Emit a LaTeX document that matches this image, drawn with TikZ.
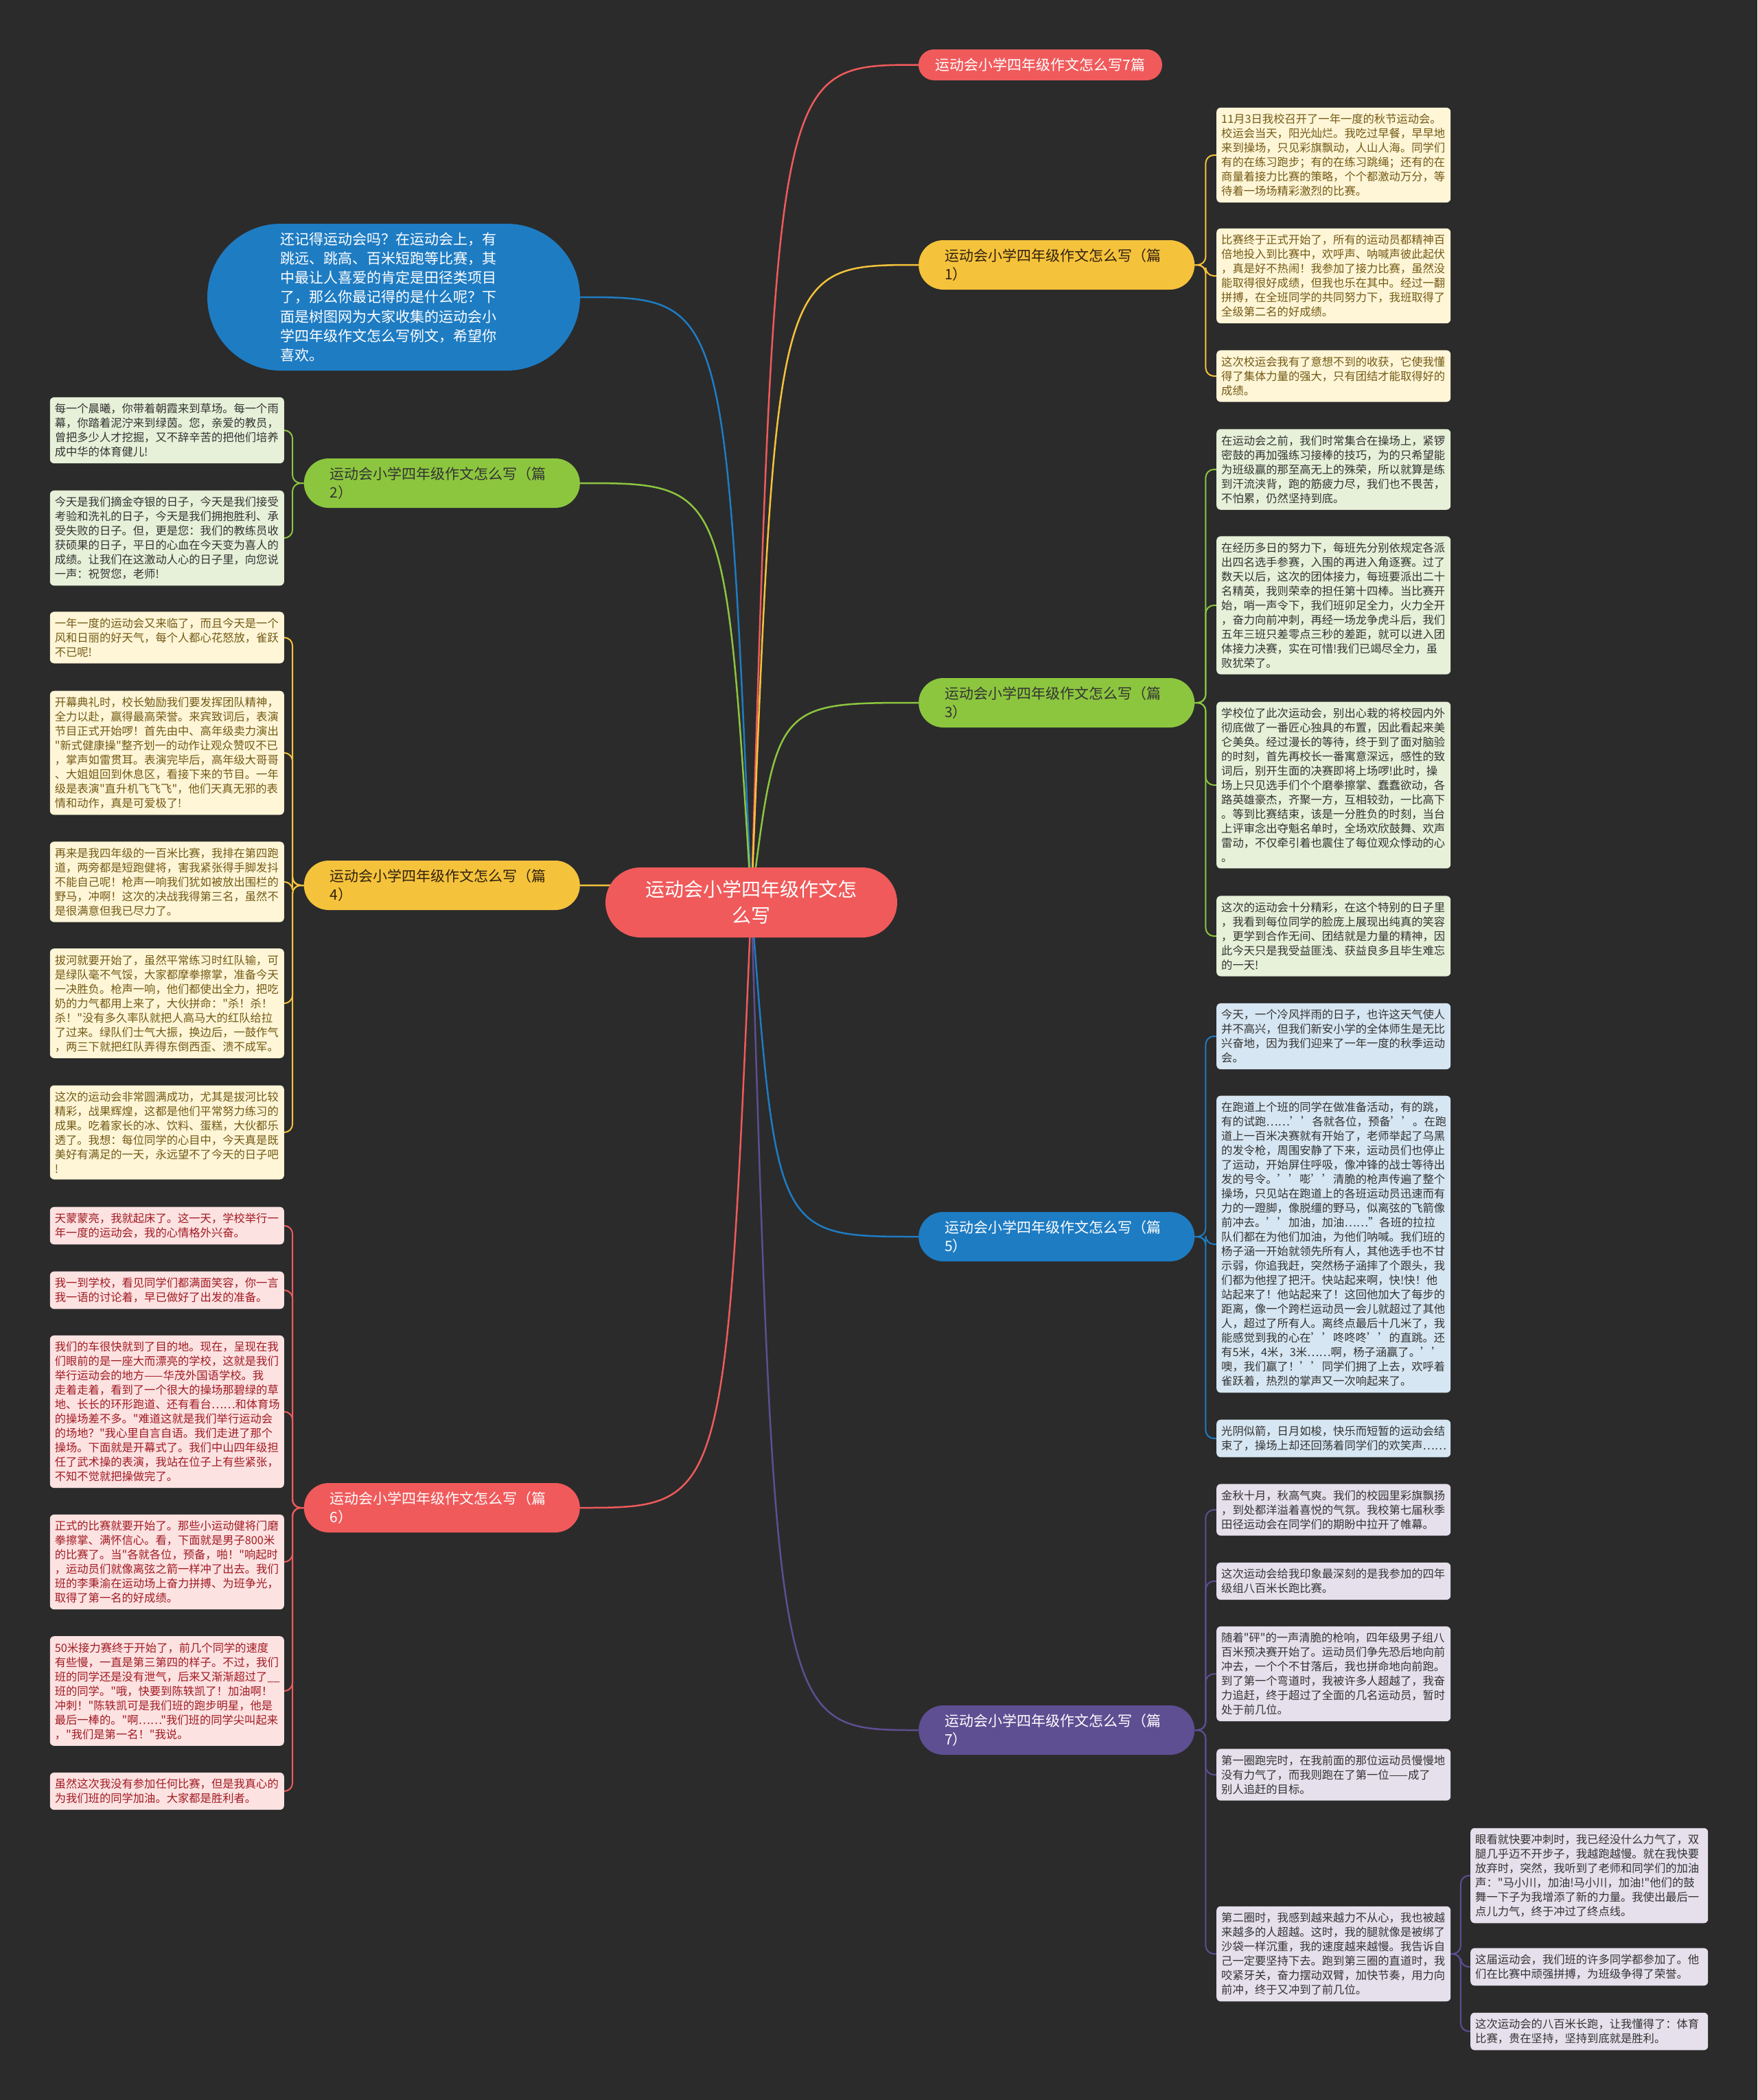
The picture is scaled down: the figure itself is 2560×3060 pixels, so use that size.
\documentclass[tikz,border=0pt]{standalone}
\usepackage{fontspec}
\newfontfamily\cjkf{Noto Sans CJK SC}
\usetikzlibrary{calc}
\pgfdeclarelayer{bg}
\pgfsetlayers{bg,main}
\definecolor{bgc}{HTML}{2B2B2B}
\definecolor{cred}{HTML}{F05A5B}
\definecolor{cyel}{HTML}{F5C33B}
\definecolor{cgrn}{HTML}{8CC63F}
\definecolor{cblu}{HTML}{1E7CC3}
\definecolor{cpur}{HTML}{5E4E92}
\definecolor{fyel}{HTML}{FFF6D8}
\definecolor{tyel}{HTML}{735A14}
\definecolor{fgrn}{HTML}{E7F0D8}
\definecolor{fblu}{HTML}{D6E6F2}
\definecolor{fpur}{HTML}{E5E0EC}
\definecolor{fred}{HTML}{FDE2E2}
\definecolor{tred}{HTML}{A01B22}
\definecolor{tdark}{HTML}{333333}
\newcommand\leaffont{\cjkf\fontsize{16.3}{21}\selectfont}
\newcommand\brfont{\cjkf\fontsize{21}{27}\selectfont}
\newcommand\rootfont{\cjkf\fontsize{28}{38}\selectfont}
\newcommand\bubfont{\cjkf\fontsize{21}{28.3}\selectfont}
\begin{document}
\begin{tikzpicture}[x=1pt,y=-1pt,
  leafbase/.style={rectangle, rounded corners=6pt, text width=327pt, inner xsep=7pt, inner ysep=9pt, align=left, font=\leaffont},
  leafY/.style={leafbase, fill=fyel, text=tyel},
  leafG/.style={leafbase, fill=fgrn, text=tdark},
  leafB/.style={leafbase, fill=fblu, text=tdark},
  leafP/.style={leafbase, fill=fpur, text=tdark},
  leafR/.style={leafbase, fill=fred, text=tred},
  subleaf/.style={leafP, text width=332pt},
  brbase/.style={rectangle, rounded corners=36pt, minimum height=72pt, text width=326pt, inner xsep=38pt, align=left, font=\brfont},
  conn/.style={line width=2.5pt},
  lconn/.style={line width=2pt, rounded corners=12pt}
]
\useasboundingbox (0,0) rectangle (2560,3060);

% root and branches
\node[rectangle, rounded corners=51pt, minimum width=425pt, minimum height=102pt, fill=cred, text=white, align=center, font=\rootfont] (root) at (1094.5,1315) {运动会小学四年级作文怎\\么写};

\node[rectangle, rounded corners=22.5pt, minimum width=355pt, minimum height=45pt, fill=cred, text=white, font=\brfont] (top7) at (1515.5,94.5) {运动会小学四年级作文怎么写7篇};

\node[rectangle, rounded corners=107pt, minimum width=543pt, minimum height=214pt, text width=330pt, fill=cblu, text=white, align=left, font=\bubfont] (bub) at (573.5,433) {还记得运动会吗？在运动会上，有\\跳远、跳高、百米短跑等比赛，其\\中最让人喜爱的肯定是田径类项目\\了，那么你最记得的是什么呢？下\\面是树图网为大家收集的运动会小\\学四年级作文怎么写例文，希望你\\喜欢。};

\node[brbase, fill=cyel, text=black!75!brown, anchor=west] (b1) at (1338,386) {运动会小学四年级作文怎么写（篇\\1）};
\node[brbase, fill=cgrn, text=black!80, anchor=west] (b3) at (1338,1024) {运动会小学四年级作文怎么写（篇\\3）};
\node[brbase, fill=cblu, text=white, anchor=west] (b5) at (1338,1802) {运动会小学四年级作文怎么写（篇\\5）};
\node[brbase, fill=cpur, text=white, anchor=west] (b7) at (1338,2521) {运动会小学四年级作文怎么写（篇\\7）};
\node[brbase, fill=cgrn, text=black!80, anchor=east] (b2) at (845,704) {运动会小学四年级作文怎么写（篇\\2）};
\node[brbase, fill=cyel, text=black!75!brown, anchor=east] (b4) at (845,1290) {运动会小学四年级作文怎么写（篇\\4）};
\node[brbase, fill=cred, text=white, anchor=east] (b6) at (845,2197) {运动会小学四年级作文怎么写（篇\\6）};

% section 1
\node[leafY, anchor=west] (y1) at (1772,226) {11月3日我校召开了一年一度的秋节运动会。\\校运会当天，阳光灿烂。我吃过早餐，早早地\\来到操场，只见彩旗飘动，人山人海。同学们\\有的在练习跑步；有的在练习跳绳；还有的在\\商量着接力比赛的策略，个个都激动万分，等\\待着一场场精彩激烈的比赛。};
\node[leafY, anchor=west] (y2) at (1772,402) {比赛终于正式开始了，所有的运动员都精神百\\倍地投入到比赛中，欢呼声、呐喊声彼此起伏\\，真是好不热闹！我参加了接力比赛，虽然没\\能取得很好成绩，但我也乐在其中。经过一翻\\拼搏，在全班同学的共同努力下，我班取得了\\全级第二名的好成绩。};
\node[leafY, anchor=west] (y3) at (1772,548) {这次校运会我有了意想不到的收获，它使我懂\\得了集体力量的强大，只有团结才能取得好的\\成绩。};

% section 3
\node[leafG, anchor=west] (g1) at (1772,684) {在运动会之前，我们时常集合在操场上，紧锣\\密鼓的再加强练习接棒的技巧，为的只希望能\\为班级赢的那至高无上的殊荣，所以就算是练\\到汗流浃背，跑的筋疲力尽，我们也不畏苦，\\不怕累，仍然坚持到底。};
\node[leafG, anchor=west] (g2) at (1772,882) {在经历多日的努力下，每班先分别依规定各派\\出四名选手参赛，入围的再进入角逐赛。过了\\数天以后，这次的团体接力，每班要派出二十\\名精英，我则荣幸的担任第十四棒。当比赛开\\始，哨一声令下，我们班卯足全力，火力全开\\，奋力向前冲刺，再经一场龙争虎斗后，我们\\五年三班只差零点三秒的差距，就可以进入团\\体接力决赛，实在可惜!我们已竭尽全力，虽\\败犹荣了。};
\node[leafG, anchor=west] (g3) at (1772,1144) {学校位了此次运动会，别出心栽的将校园内外\\彻底做了一番匠心独具的布置，因此看起来美\\仑美奂。经过漫长的等待，终于到了面对脑验\\的时刻，首先再校长一番寓意深远，感性的致\\词后，别开生面的决赛即将上场啰!此时，操\\场上只见选手们个个磨拳擦掌、蠢蠢欲动，各\\路英雄豪杰，齐聚一方，互相较劲，一比高下\\。等到比赛结束，该是一分胜负的时刻，当台\\上评审念出夺魁名单时，全场欢欣鼓舞、欢声\\雷动，不仅牵引着也震住了每位观众悸动的心\\。};
\node[leafG, anchor=west] (g4) at (1772,1364) {这次的运动会十分精彩，在这个特别的日子里\\，我看到每位同学的脸庞上展现出纯真的笑容\\，更学到合作无间、团结就是力量的精神，因\\此今天只是我受益匪浅、获益良多且毕生难忘\\的一天!};

% section 5
\node[leafB, anchor=west] (u1) at (1772,1510) {今天，一个冷风拌雨的日子，也许这天气使人\\并不高兴，但我们新安小学的全体师生是无比\\兴奋地，因为我们迎来了一年一度的秋季运动\\会。};
\node[leafB, anchor=west] (u2) at (1772,1813) {在跑道上个班的同学在做准备活动，有的跳，\\有的试跑……’’各就各位，预备’’。在跑\\道上一百米决赛就有开始了，老师举起了乌黑\\的发令枪，周围安静了下来，运动员们也停止\\了运动，开始屏住呼吸，像冲锋的战士等待出\\发的号令。’’嘭’’清脆的枪声传遍了整个\\操场，只见站在跑道上的各班运动员迅速而有\\力的一蹬脚，像脱缰的野马，似离弦的飞箭像\\前冲去。’’加油，加油……”各班的拉拉\\队们都在为他们加油，为他们呐喊。我们班的\\杨子涵一开始就领先所有人，其他选手也不甘\\示弱，你追我赶，突然杨子涵摔了个跟头，我\\们都为他捏了把汗。快站起来啊，快!快！他\\站起来了！他站起来了！这回他加大了每步的\\距离，像一个跨栏运动员一会儿就超过了其他\\人，超过了所有人。离终点最后十几米了，我\\能感觉到我的心在’’咚咚咚’’的直跳。还\\有5米，4米，3米……啊，杨子涵赢了。’’\\噢，我们赢了！’’同学们拥了上去，欢呼着\\雀跃着，热烈的掌声又一次响起来了。};
\node[leafB, anchor=west] (u3) at (1772,2096) {光阴似箭，日月如梭，快乐而短暂的运动会结\\束了，操场上却还回荡着同学们的欢笑声……};

% section 7
\node[leafP, anchor=west] (p1) at (1772,2200) {金秋十月，秋高气爽。我们的校园里彩旗飘扬\\，到处都洋溢着喜悦的气氛。我校第七届秋季\\田径运动会在同学们的期盼中拉开了帷幕。};
\node[leafP, anchor=west] (p2) at (1772,2304) {这次运动会给我印象最深刻的是我参加的四年\\级组八百米长跑比赛。};
\node[leafP, anchor=west] (p3) at (1772,2439) {随着"砰"的一声清脆的枪响，四年级男子组八\\百米预决赛开始了。运动员们争先恐后地向前\\冲去，一个个不甘落后，我也拼命地向前跑。\\到了第一个弯道时，我被许多人超越了，我奋\\力追赶，终于超过了全面的几名运动员，暂时\\处于前几位。};
\node[leafP, anchor=west] (p4) at (1772,2586) {第一圈跑完时，在我前面的那位运动员慢慢地\\没有力气了，而我则跑在了第一位——成了\\别人追赶的目标。};
\node[leafP, anchor=west] (p5) at (1772,2847) {第二圈时，我感到越来越力不从心，我也被越\\来越多的人超越。这时，我的腿就像是被绑了\\沙袋一样沉重，我的速度越来越慢。我告诉自\\己一定要坚持下去。跑到第三圈的直道时，我\\咬紧牙关，奋力摆动双臂，加快节奏，用力向\\前冲，终于又冲到了前几位。};
\node[subleaf, anchor=west] (s1) at (2142,2733) {眼看就快要冲刺时，我已经没什么力气了，双\\腿几乎迈不开步子，我越跑越慢。就在我快要\\放弃时，突然，我听到了老师和同学们的加油\\声："马小川，加油!马小川，加油!"他们的鼓\\舞一下子为我增添了新的力量。我使出最后一\\点儿力气，终于冲过了终点线。};
\node[subleaf, anchor=west] (s2) at (2142,2866) {这届运动会，我们班的许多同学都参加了。他\\们在比赛中顽强拼搏，为班级争得了荣誉。};
\node[subleaf, anchor=west] (s3) at (2142,2960) {这次运动会的八百米长跑，让我懂得了：体育\\比赛，贵在坚持，坚持到底就是胜利。};

% section 2
\node[leafG, anchor=east] (a1) at (414,627) {每一个晨曦，你带着朝霞来到草场。每一个雨\\幕，你踏着泥泞来到绿茵。您，亲爱的教员，\\曾把多少人才挖掘，又不辞辛苦的把他们培养\\成中华的体育健儿!};
\node[leafG, anchor=east] (a2) at (414,784) {今天是我们摘金夺银的日子，今天是我们接受\\考验和洗礼的日子，今天是我们拥抱胜利、承\\受失败的日子。但，更是您：我们的教练员收\\获硕果的日子，平日的心血在今天变为喜人的\\成绩。让我们在这激动人心的日子里，向您说\\一声：祝贺您，老师!};

% section 4
\node[leafY, anchor=east] (c1) at (414,929) {一年一度的运动会又来临了，而且今天是一个\\风和日丽的好天气，每个人都心花怒放，雀跃\\不已呢!};
\node[leafY, anchor=east] (c2) at (414,1097) {开幕典礼时，校长勉励我们要发挥团队精神，\\全力以赴，赢得最高荣誉。来宾致词后，表演\\节目正式开始啰！首先由中、高年级卖力演出\\"新式健康操"整齐划一的动作让观众赞叹不已\\，掌声如雷贯耳。表演完毕后，高年级大哥哥\\、大姐姐回到休息区，看接下来的节目。一年\\级是表演"直升机飞飞飞"，他们天真无邪的表\\情和动作，真是可爱极了!};
\node[leafY, anchor=east] (c3) at (414,1285) {再来是我四年级的一百米比赛，我排在第四跑\\道，两旁都是短跑健将，害我紧张得手脚发抖\\不能自己呢！枪声一响我们犹如被放出围栏的\\野马，冲啊！这次的决战我得第三名，虽然不\\是很满意但我已尽力了。};
\node[leafY, anchor=east] (c4) at (414,1462) {拔河就要开始了，虽然平常练习时红队输，可\\是绿队毫不气馁，大家都摩拳擦掌，准备今天\\一决胜负。枪声一响，他们都使出全力，把吃\\奶的力气都用上来了，大伙拼命："杀！杀！\\杀！"没有多久率队就把人高马大的红队给拉\\了过来。绿队们士气大振，换边后，一鼓作气\\，两三下就把红队弄得东倒西歪、溃不成军。};
\node[leafY, anchor=east] (c5) at (414,1650) {这次的运动会非常圆满成功，尤其是拔河比较\\精彩，战果辉煌，这都是他们平常努力练习的\\成果。吃着家长的冰、饮料、蛋糕，大伙都乐\\透了。我想：每位同学的心目中，今天真是既\\美好有满足的一天，永远望不了今天的日子吧\\!};

% section 6
\node[leafR, anchor=east] (r1) at (414,1786) {天蒙蒙亮，我就起床了。这一天，学校举行一\\年一度的运动会，我的心情格外兴奋。};
\node[leafR, anchor=east] (r2) at (414,1880) {我一到学校，看见同学们都满面笑容，你一言\\我一语的讨论着，早已做好了出发的准备。};
\node[leafR, anchor=east] (r3) at (414,2057) {我们的车很快就到了目的地。现在，呈现在我\\们眼前的是一座大而漂亮的学校，这就是我们\\举行运动会的地方——华茂外国语学校。我\\走着走着，看到了一个很大的操场那碧绿的草\\地、长长的环形跑道、还有看台……和体育场\\的操场差不多。"难道这就是我们举行运动会\\的场地？"我心里自言自语。我们走进了那个\\操场。下面就是开幕式了。我们中山四年级担\\任了武术操的表演，我站在位子上有些紧张，\\不知不觉就把操做完了。};
\node[leafR, anchor=east] (r4) at (414,2276) {正式的比赛就要开始了。那些小运动健将门磨\\拳擦掌、满怀信心。看，下面就是男子800米\\的比赛了。当"各就各位，预备，啪！"响起时\\，运动员们就像离弦之箭一样冲了出去。我们\\班的李秉渝在运动场上奋力拼搏、为班争光，\\取得了第一名的好成绩。};
\node[leafR, anchor=east] (r5) at (414,2464) {50米接力赛终于开始了，前几个同学的速度\\有些慢，一直是第三第四的样子。不过，我们\\班的同学还是没有泄气，后来又渐渐超过了\_\_\\班的同学。"哦，快要到陈轶凯了！加油啊！\\冲刺！"陈轶凯可是我们班的跑步明星，他是\\最后一棒的。"啊……"我们班的同学尖叫起来\\，"我们是第一名！"我说。};
\node[leafR, anchor=east] (r6) at (414,2610) {虽然这次我没有参加任何比赛，但是我真心的\\为我们班的同学加油。大家都是胜利者。};

\begin{pgfonlayer}{bg}
\fill[bgc] (0,0) rectangle (2560,3060);
% main connectors
\draw[conn, cred] (root.center) .. controls (1131,94.5) .. (top7.west);
\draw[conn, cyel] (root.center) .. controls (1131,386) .. (b1.west);
\draw[conn, cgrn] (root.center) .. controls (1131,1024) .. (b3.west);
\draw[conn, cblu] (root.center) .. controls (1131,1802) .. (b5.west);
\draw[conn, cpur] (root.center) .. controls (1131,2521) .. (b7.west);
\draw[conn, cblu] (root.center) .. controls (1057,433) .. (bub.east);
\draw[conn, cgrn] (root.center) .. controls (1057,704) .. (b2.east);
\draw[conn, cyel] (root.center) .. controls (1057,1290) .. (b4.east);
\draw[conn, cred] (root.center) .. controls (1057,2197) .. (b6.east);
% leaf connectors right
\foreach \l in {y1,y2,y3} \draw[lconn, cyel] (b1.east) -- ++(16,0) |- (\l.west);
\foreach \l in {g1,g2,g3,g4} \draw[lconn, cgrn] (b3.east) -- ++(16,0) |- (\l.west);
\foreach \l in {u1,u2,u3} \draw[lconn, cblu] (b5.east) -- ++(16,0) |- (\l.west);
\foreach \l in {p1,p2,p3,p4,p5} \draw[lconn, cpur] (b7.east) -- ++(16,0) |- (\l.west);
\foreach \l in {s1,s2,s3} \draw[lconn, cpur] (p5.east) -- ++(14.5,0) |- (\l.west);
% leaf connectors left
\foreach \l in {a1,a2} \draw[lconn, cgrn] (b2.west) -- ++(-16.5,0) |- (\l.east);
\foreach \l in {c1,c2,c3,c4,c5} \draw[lconn, cyel] (b4.west) -- ++(-16.5,0) |- (\l.east);
\foreach \l in {r1,r2,r3,r4,r5,r6} \draw[lconn, cred] (b6.west) -- ++(-16.5,0) |- (\l.east);
\end{pgfonlayer}
\end{tikzpicture}
\end{document}
